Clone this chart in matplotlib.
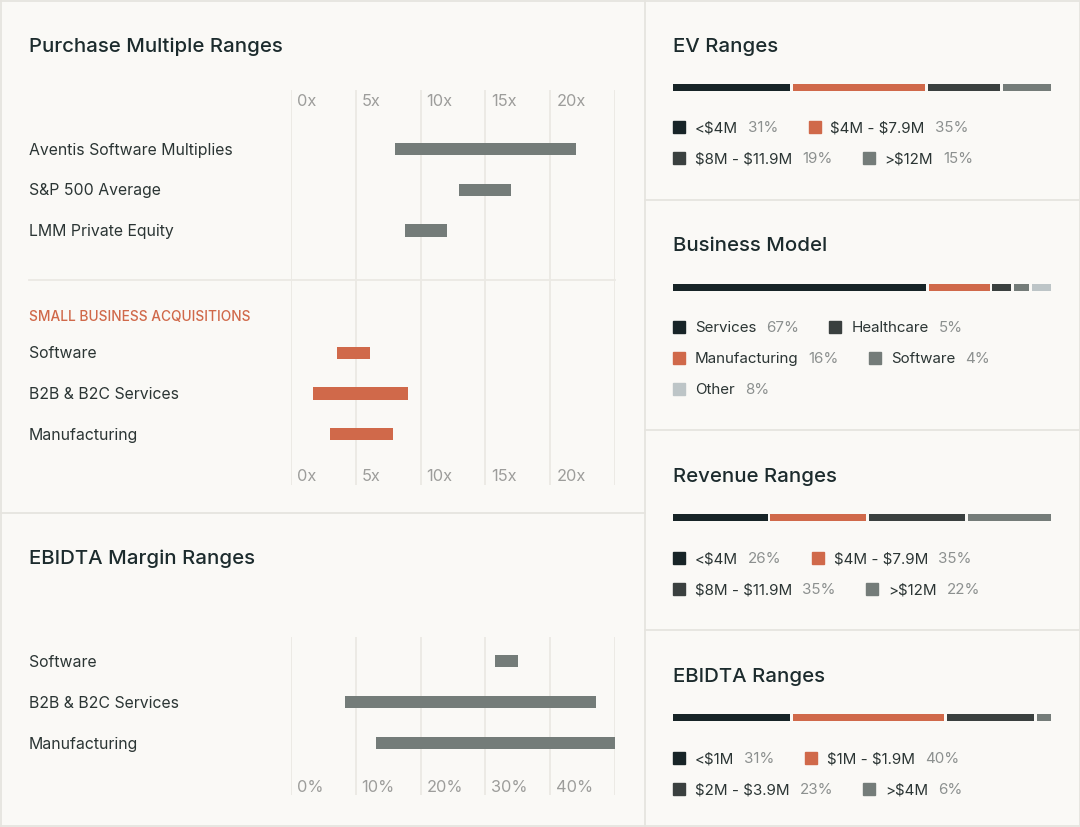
import matplotlib
matplotlib.use("Agg")
import matplotlib.pyplot as plt
from matplotlib.patches import Rectangle
from matplotlib import transforms
import numpy as np

# ---------------- data ----------------
pm_categories = ["Aventis Software Multiplies", "S&P 500 Average", "LMM Private Equity"]
pm_low = [8.0, 13.0, 8.8]
pm_high = [22.0, 17.0, 12.0]

sba_categories = ["Software", "B2B & B2C Services", "Manufacturing"]
sba_low = [3.6, 1.7, 3.0]
sba_high = [6.1, 9.0, 7.9]

pm_ticks = [0, 5, 10, 15, 20]
pm_tick_labels = ["0x", "5x", "10x", "15x", "20x"]

em_categories = ["Software", "B2B & B2C Services", "Manufacturing"]
em_low = [31.5, 8.4, 13.1]
em_high = [35.0, 47.1, 50.0]
em_ticks = [0, 10, 20, 30, 40]
em_tick_labels = ["0%", "10%", "20%", "30%", "40%"]

ev_labels = ["<$4M", "$4M - $7.9M", "$8M - $11.9M", ">$12M"]
ev_values = [31, 35, 19, 15]

bm_labels = ["Services", "Manufacturing", "Healthcare", "Software", "Other"]
bm_values = [67, 16, 5, 4, 8]
bm_legend_order = ["Services", "Healthcare", "Manufacturing", "Software", "Other"]

rev_labels = ["<$4M", "$4M - $7.9M", "$8M - $11.9M", ">$12M"]
rev_values = [26, 35, 35, 22]
rev_bar_share = [25.0, 25.4, 25.4, 22.0]   # segment lengths as drawn in the bar

eb_labels = ["<$1M", "$1M - $1.9M", "$2M - $3.9M", ">$4M"]
eb_values = [31, 40, 23, 6]

# ---------------- style ----------------
BG = "#faf9f6"
BORDER = "#e6e4df"
GRID = "#ebe9e4"
GRAYBAR = "#747c79"
ORANGE = "#d0694a"
NAVY = "#172427"
DARK = "#3a403f"
MID = "#747c79"
LIGHT = "#bdc5c7"
TITLE = "#1c2b2d"
LABEL = "#2b3534"
TICK = "#9d9d9b"
PCT = "#8c908f"

FONT = "Inter"
plt.rcParams["font.family"] = [FONT, "DejaVu Sans"]
plt.rcParams["text.parse_math"] = False

W, H = 1080, 827
fig = plt.figure(figsize=(W / 100, H / 100), dpi=100, facecolor=BG)
bg = fig.add_axes([0, 0, 1, 1])
bg.set_xlim(0, W)
bg.set_ylim(H, 0)
bg.axis("off")
bg.set_facecolor(BG)


def px_axes(x0, x1, y0, y1):
    a = fig.add_axes([x0 / W, 1 - y1 / H, (x1 - x0) / W, (y1 - y0) / H])
    a.set_facecolor("none")
    for s in a.spines.values():
        s.set_visible(False)
    a.tick_params(left=False, bottom=False, labelleft=False, labelbottom=False)
    return a


# panel borders
lw = 1.3
bg.plot([0.5, 0.5], [0, H], color=BORDER, lw=lw)
bg.plot([W - 0.5, W - 0.5], [0, H], color=BORDER, lw=lw)
bg.plot([0, W], [0.5, 0.5], color=BORDER, lw=lw)
bg.plot([0, W], [H - 1.5, H - 1.5], color=BORDER, lw=lw)
bg.plot([645, 645], [0, H], color=BORDER, lw=lw)
bg.plot([0, 645], [513, 513], color=BORDER, lw=lw)
for yy in [200, 430, 630]:
    bg.plot([645, W], [yy, yy], color=BORDER, lw=lw)

TITLE_FS = 14.7
LAB_FS = 11.4
LEG_FS = 10.9
TICK_FS = 11.8

# ---------------- Purchase Multiple Ranges ----------------
bg.text(29, 47, "Purchase Multiple Ranges", fontsize=TITLE_FS, color=TITLE,
        va="center", ha="left", fontweight="medium")

ax1 = px_axes(290.7, 615.3, 90, 485)
row0, step = 149.0, 40.75
ax1.set_xlim(0, 25)
ax1.set_ylim((485 - row0) / step, (90 - row0) / step)
for xv in range(0, 30, 5):
    ax1.axvline(xv, color=GRID, lw=1.3, zorder=0)

pm_rows = np.arange(len(pm_categories))
sba_rows = np.arange(len(sba_categories)) + 5
ax1.barh(pm_rows, np.array(pm_high) - np.array(pm_low), left=pm_low, height=0.3,
         color=GRAYBAR, zorder=2)
ax1.barh(sba_rows, np.array(sba_high) - np.array(sba_low), left=sba_low, height=0.3,
         color=ORANGE, zorder=2)

tr_lab1 = transforms.blended_transform_factory(bg.transData, ax1.transData)
lab_dy = 1.2 / step
for r, c in zip(pm_rows, pm_categories):
    ax1.text(29, r + lab_dy, c, transform=tr_lab1, fontsize=LAB_FS, color=LABEL, va="center", ha="left")
for r, c in zip(sba_rows, sba_categories):
    ax1.text(29, r + lab_dy, c, transform=tr_lab1, fontsize=LAB_FS, color=LABEL, va="center", ha="left")
ax1.text(29, (316.5 - row0) / step, "SMALL BUSINESS ACQUISITIONS", transform=tr_lab1,
         fontsize=9.9, color=ORANGE, va="center", ha="left", fontweight="medium")
sep_y = (279.5 - row0) / step
ax1.plot([29, 615], [sep_y, sep_y], transform=tr_lab1, color=GRID, lw=1.3, clip_on=False, zorder=1)

off = transforms.offset_copy(ax1.transData, fig=fig, x=6, y=0, units="dots")
for tv, tl in zip(pm_ticks, pm_tick_labels):
    for yy in [101.5, 476.5]:
        ax1.text(tv, (yy - row0) / step, tl, transform=off, fontsize=TICK_FS, color=TICK,
                 va="center", ha="left")

# ---------------- EBIDTA Margin Ranges ----------------
bg.text(29, 559, "EBIDTA Margin Ranges", fontsize=TITLE_FS, color=TITLE,
        va="center", ha="left", fontweight="medium")
ax2 = px_axes(290.7, 615.3, 637, 795)
row0b, stepb = 661.0, 41.0
ax2.set_xlim(0, 50)
ax2.set_ylim((795 - row0b) / stepb, (637 - row0b) / stepb)
for xv in range(0, 60, 10):
    ax2.axvline(xv, color=GRID, lw=1.3, zorder=0)
em_rows = np.arange(len(em_categories))
ax2.barh(em_rows, np.array(em_high) - np.array(em_low), left=em_low, height=0.3,
         color=GRAYBAR, zorder=2)
tr_lab2 = transforms.blended_transform_factory(bg.transData, ax2.transData)
for r, c in zip(em_rows, em_categories):
    ax2.text(29, r + 1.2 / stepb, c, transform=tr_lab2, fontsize=LAB_FS, color=LABEL,
             va="center", ha="left")
off2 = transforms.offset_copy(ax2.transData, fig=fig, x=6, y=0, units="dots")
for tv, tl in zip(em_ticks, em_tick_labels):
    ax2.text(tv, (788 - row0b) / stepb, tl, transform=off2, fontsize=TICK_FS, color=TICK,
             va="center", ha="left")

# ---------------- right panels ----------------
renderer = fig.canvas.get_renderer()
BAR_X0, BAR_X1 = 673, 1051
GAP = 0.75  # in percent units of bar width


def stacked(ybar, values, colors):
    a = px_axes(BAR_X0, BAR_X1, ybar - 3.5, ybar + 3.5)
    a.set_xlim(0, 100)
    a.set_ylim(-0.5, 0.5)
    left = 0.0
    for v, c in zip(values, colors):
        a.barh(0, v, left=left, height=1.0, color=c, clip_on=True)
        left += v + GAP


def legend(rows, items, fs=LEG_FS):
    for yy, row in zip(rows, items):
        x = 673
        for lab, pct, col in row:
            bg.add_patch(Rectangle((x, yy - 6), 12, 12, color=col))
            t1 = bg.text(x + 22, yy + 1.2, lab, fontsize=fs, color=LABEL, va="center", ha="left")
            w1 = t1.get_window_extent(renderer).width
            t2 = bg.text(x + 22 + w1 + 10, yy + 1.2, pct, fontsize=fs, color=PCT,
                         va="center", ha="left")
            w2 = t2.get_window_extent(renderer).width
            x = x + 22 + w1 + 10 + w2 + 30


def panel(title, ty, ybar, bar_vals, colors, rows, items):
    bg.text(673, ty + 2, title, fontsize=TITLE_FS, color=TITLE, va="center", ha="left",
            fontweight="medium")
    stacked(ybar, bar_vals, colors)
    legend(rows, items)


c4 = [NAVY, ORANGE, DARK, MID]
ev_items = [(l, f"{v}%", c) for l, v, c in zip(ev_labels, ev_values, c4)]
panel("EV Ranges", 45, 87, ev_values, c4, [127, 158], [ev_items[:2], ev_items[2:]])

bm_colors = {"Services": NAVY, "Manufacturing": ORANGE, "Healthcare": DARK,
             "Software": MID, "Other": LIGHT}
bm_map = dict(zip(bm_labels, bm_values))
bm_items = [(l, f"{bm_map[l]}%", bm_colors[l]) for l in bm_legend_order]
panel("Business Model", 244, 287, bm_values, [bm_colors[l] for l in bm_labels],
      [327, 358, 389], [bm_items[:2], bm_items[2:4], bm_items[4:]])

rev_items = [(l, f"{v}%", c) for l, v, c in zip(rev_labels, rev_values, c4)]
panel("Revenue Ranges", 475, 517, rev_bar_share, c4, [558, 589], [rev_items[:2], rev_items[2:]])

eb_items = [(l, f"{v}%", c) for l, v, c in zip(eb_labels, eb_values, c4)]
panel("EBIDTA Ranges", 675, 717, eb_values, c4, [758, 789], [eb_items[:2], eb_items[2:]])

fig.savefig("out.png", dpi=100, facecolor=BG)
